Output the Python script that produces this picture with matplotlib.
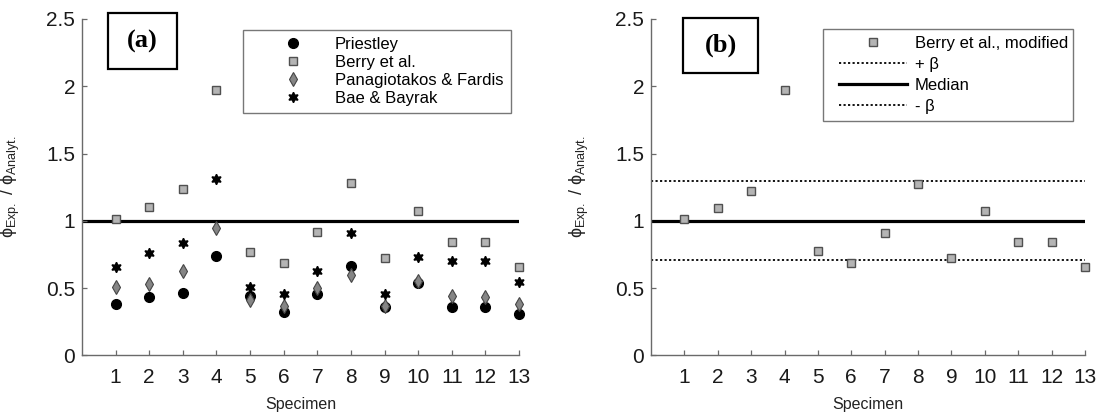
import matplotlib
matplotlib.use("Agg")
import matplotlib.pyplot as plt
from matplotlib.patches import Rectangle
from matplotlib.legend_handler import HandlerLine2D

plt.rcParams['font.family'] = ['Liberation Sans', 'DejaVu Sans']
plt.rcParams['mathtext.fontset'] = 'custom'
plt.rcParams['mathtext.rm'] = 'Liberation Sans'
plt.rcParams['mathtext.it'] = 'Liberation Sans'

# ---------------- data ----------------
specimens = [1, 2, 3, 4, 5, 6, 7, 8, 9, 10, 11, 12, 13]
xtick_labels = ['1', '2', '3', '4', '5', '6', '7', '8', '9', '10', '11', '12', '13']
yticks = [0, 0.5, 1, 1.5, 2, 2.5]
ytick_labels = ['0', '0.5', '1', '1.5', '2', '2.5']

priestley = [0.379, 0.431, 0.466, 0.738, 0.441, 0.320, 0.456, 0.664, 0.357, 0.535, 0.357, 0.357, 0.305]
berry = [1.011, 1.105, 1.234, 1.975, 0.766, 0.689, 0.914, 1.283, 0.721, 1.073, 0.845, 0.845, 0.659]
panagiotakos = [0.510, 0.530, 0.629, 0.949, 0.411, 0.367, 0.498, 0.597, 0.367, 0.552, 0.441, 0.436, 0.381]
bae_bayrak = [0.654, 0.763, 0.833, 1.313, 0.510, 0.453, 0.629, 0.907, 0.453, 0.733, 0.701, 0.701, 0.547]

berry_modified = [1.012, 1.098, 1.225, 1.970, 0.772, 0.689, 0.912, 1.270, 0.723, 1.069, 0.843, 0.843, 0.657]
median_value = 1.0
plus_beta = 1.295
minus_beta = 0.705

# ---------------- figure ----------------
W, H = 1097, 413
fig = plt.figure(figsize=(W / 100, H / 100), dpi=100)


def px_rect(x0, y0, x1, y1):
    return [x0 / W, 1 - y1 / H, (x1 - x0) / W, (y1 - y0) / H]


ax1 = fig.add_axes(px_rect(82, 19, 519, 355.3))
ax2 = fig.add_axes(px_rect(651, 19, 1085, 355.3))

spine_col = '#6a6a6a'
for ax, aw in ((ax1, 437.0), (ax2, 434.0)):
    ax.set_xlim(0, 13)
    ax.set_ylim(0, 2.5)
    ax.set_xticks(specimens)
    ax.set_xticklabels(xtick_labels)
    ax.set_yticks(yticks)
    ax.set_yticklabels(ytick_labels)
    for s in ('top', 'right'):
        ax.spines[s].set_visible(False)
    for s in ('left', 'bottom'):
        ax.spines[s].set_color(spine_col)
        ax.spines[s].set_linewidth(1.0)
    ax.tick_params(direction='in', length=3.5, width=0.9, color=spine_col,
                   labelsize=15, labelcolor='#1a1a1a')
    ax.tick_params(axis='x', pad=9)
    ax.tick_params(axis='y', pad=5)
    ax.set_xlabel('Specimen', fontsize=11.5, color='#222222', labelpad=7)
    ax.set_ylabel('ϕ$_{\\mathrm{Exp.}}$ / ϕ$_{\\mathrm{Analyt.}}$', fontsize=13,
                  color='#222222')
    ax.yaxis.set_label_coords(-60 / aw, 0.5)

# ---------- panel (a) ----------
ax1.axhline(1.0, color='black', lw=2.3, zorder=1)
ax1.plot(specimens, priestley, ls='none', marker='o', ms=7, mfc='black', mec='black',
         label='Priestley', zorder=3, clip_on=False)
ax1.plot(specimens, berry, ls='none', marker='s', ms=6, mfc='#b4b4b4', mec='#505050',
         mew=1.0, label='Berry et al.', zorder=3, clip_on=False)
ax1.plot(specimens, panagiotakos, ls='none', marker='d', ms=7.5, mfc='#858585', mec='#454545',
         mew=0.8, label='Panagiotakos & Fardis', zorder=3, clip_on=False)
ax1.plot(specimens, bae_bayrak, ls='none', marker=(6, 1, 0), ms=7.5, mfc='black', mec='black',
         label='Bae & Bayrak', zorder=3, clip_on=False)

fs_leg = 12
aw1 = 437.0
ah = 336.3
leg1 = ax1.legend(loc='upper left',
                  bbox_to_anchor=((243 - 82) / aw1, (355.3 - 30) / ah, (511 - 243) / aw1, 0.0),
                  mode='expand', fontsize=fs_leg, numpoints=1, frameon=True, fancybox=False,
                  borderpad=0.42, handlelength=5.1, handletextpad=0.0, labelspacing=0.17,
                  borderaxespad=0.0)
leg1.get_frame().set_edgecolor('#555555')
leg1.get_frame().set_linewidth(1.0)

# ---------- panel (b) ----------
ax2.plot(specimens, berry_modified, ls='none', marker='s', ms=6, mfc='#b4b4b4', mec='#505050',
         mew=1.0, label='Berry et al., modified', zorder=3, clip_on=False)
ax2.axhline(plus_beta, color='black', lw=1.3, ls=(0, (1.2, 1.3)), label='+ β', zorder=2)
ax2.axhline(median_value, color='black', lw=2.3, label='Median', zorder=2)
ax2.axhline(minus_beta, color='black', lw=1.3, ls=(0, (1.2, 1.3)), label='- β', zorder=2)

aw2 = 434.0
leg2 = ax2.legend(loc='upper left',
                  bbox_to_anchor=((823 - 651) / aw2, (355.3 - 29) / ah, (1073 - 823) / aw2, 0.0),
                  mode='expand', fontsize=fs_leg, numpoints=1, frameon=True, fancybox=False,
                  borderpad=0.42, handlelength=4.62, handletextpad=0.48, labelspacing=0.36,
                  borderaxespad=0.0,
                  handler_map={plt.Line2D: HandlerLine2D(xpad=0.54)})
leg2.get_frame().set_edgecolor('#555555')
leg2.get_frame().set_linewidth(1.0)

# ---------- panel labels ----------
for (x0, y0, x1, y1, txt) in [(108, 13, 177, 69, '(a)'), (683, 18, 758, 73, '(b)')]:
    r = Rectangle((x0 / W, 1 - y1 / H), (x1 - x0) / W, (y1 - y0) / H,
                  transform=fig.transFigure, fill=True, fc='white', ec='black', lw=1.6)
    fig.add_artist(r)
    fig.text((x0 + x1) / 2 / W, 1 - (y0 + y1) / 2 / H, txt, ha='center', va='center',
             fontsize=19, fontweight='bold', family='Liberation Serif')

fig.savefig('out.png', dpi=100)
